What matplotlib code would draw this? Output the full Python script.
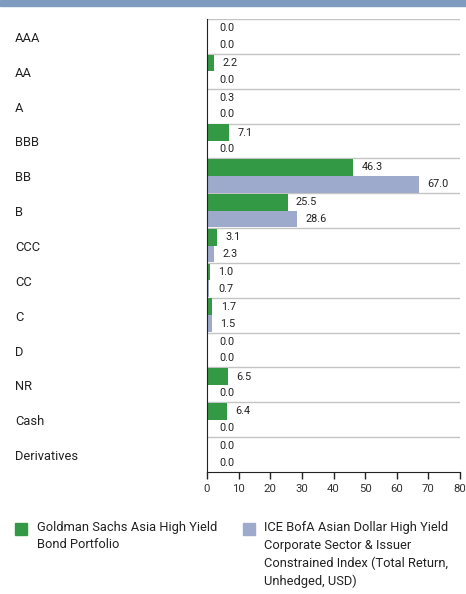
import numpy as np
import matplotlib.pyplot as plt
from matplotlib.patches import Rectangle

categories = ['AAA', 'AA', 'A', 'BBB', 'BB', 'B', 'CCC', 'CC', 'C', 'D', 'NR', 'Cash', 'Derivatives']
fund = [0.0, 2.2, 0.3, 7.1, 46.3, 25.5, 3.1, 1.0, 1.7, 0.0, 6.5, 6.4, 0.0]
index = [0.0, 0.0, 0.0, 0.0, 67.0, 28.6, 2.3, 0.7, 1.5, 0.0, 0.0, 0.0, 0.0]
fund_label = 'Goldman Sachs Asia High Yield\nBond Portfolio'
index_label = 'ICE BofA Asian Dollar High Yield\nCorporate Sector & Issuer\nConstrained Index (Total Return,\nUnhedged, USD)'

green = '#339944'
blue = '#9daacb'
plt.rcParams['font.family'] = ['Roboto', 'DejaVu Sans']

fig = plt.figure(figsize=(4.66, 5.94), dpi=100)
W, H = 466, 594

# top band
fig.patches.append(Rectangle((0, 1 - 6 / H), 1, 6 / H, transform=fig.transFigure,
                             color='#7f9cc0', zorder=0))

ax = fig.add_axes([207 / W, 1 - 472 / H, 253 / W, 453 / H])
n = len(categories)
y = np.arange(n)
h = 0.48
ax.barh(y - h / 2, fund, height=h, color=green, zorder=2)
ax.barh(y + h / 2, index, height=h, color=blue, zorder=2)

for i in range(n):
    ax.annotate(f'{fund[i]:.1f}', (fund[i], y[i] - h / 2), xytext=(max(6, 9 - fund[i] * 3), 0),
                textcoords='offset points', va='center', ha='left', fontsize=7.8, color='#222222')
    ax.annotate(f'{index[i]:.1f}', (index[i], y[i] + h / 2), xytext=(max(6, 9 - index[i] * 3), 0),
                textcoords='offset points', va='center', ha='left', fontsize=7.8, color='#222222')
    ax.axhline(i - 0.5, color='#c4c4c4', lw=1, zorder=1)

ax.set_ylim(n - 0.5, -0.5)
ax.set_xlim(0, 80)
ax.set_xticks(range(0, 81, 10))
ax.set_yticks([])
ax.tick_params(axis='x', length=5, width=1, colors='#222222', labelsize=8.2, labelcolor='#333333')
for s in ['top', 'right']:
    ax.spines[s].set_visible(False)
ax.spines['left'].set_color('#222222')
ax.spines['bottom'].set_color('#222222')

for i, c in enumerate(categories):
    yy = ax.transData.transform((0, y[i]))[1]
    fig.text(15 / W, yy / fig.dpi / fig.get_figheight() - 2 / H, c, ha='left', va='center',
             fontsize=9.3, color='#222222')

# legend
fig.patches.append(Rectangle((15 / W, 1 - 535 / H), 12 / W, 12 / H, transform=fig.transFigure,
                             color=green))
fig.text(37 / W, 1 - 521 / H, fund_label, ha='left', va='top', fontsize=9.3,
         color='#222222', linespacing=1.45)
fig.patches.append(Rectangle((243 / W, 1 - 535 / H), 12 / W, 12 / H, transform=fig.transFigure,
                             color=blue))
fig.text(264 / W, 1 - 521 / H, index_label, ha='left', va='top', fontsize=9.3,
         color='#222222', linespacing=1.45)

fig.savefig('out.png', dpi=100)
